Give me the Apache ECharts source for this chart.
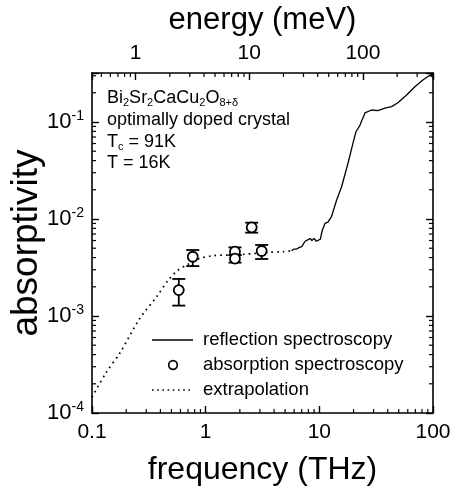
<!DOCTYPE html>
<html><head><meta charset="utf-8">
<script src="https://cdn.jsdelivr.net/npm/echarts@6/dist/echarts.min.js"></script>
<style>html,body{margin:0;padding:0;background:#fff}#c{width:453px;height:493px}</style>
</head><body><div id="c"></div>
<script>
// ---- data ----
const reflFreq = [5.7, 6.0, 6.3, 6.7, 7.0, 7.5, 7.9, 8.3, 8.6, 9.0, 9.4, 9.7, 10.2, 10.6, 11.2, 11.9, 12.8, 14.2, 15.7, 17.9, 19.8, 21.0, 22.8, 25.2, 28.8, 32.7, 37.8, 43.2, 49.1, 58.6, 69.3, 81.5, 100];
const reflAbs  = [0.0047, 0.0049, 0.0049, 0.0051, 0.0052, 0.0059, 0.0061, 0.0063, 0.0060, 0.0063, 0.0059, 0.0058, 0.0062, 0.0076, 0.0090, 0.0093, 0.0106, 0.0157, 0.0215, 0.0378, 0.0608, 0.0794, 0.093, 0.124, 0.133, 0.131, 0.139, 0.144, 0.158, 0.190, 0.231, 0.271, 0.32];
const extrapFreq = [0.1, 0.133, 0.176, 0.264, 0.371, 0.469, 0.574, 0.681, 0.891, 1.17, 1.64, 2.14, 2.81, 3.68, 4.82, 5.7];
const extrapAbs  = [0.000145, 0.00026, 0.000416, 0.000947, 0.00158, 0.00235, 0.00298, 0.00336, 0.00393, 0.00419, 0.00425, 0.00432, 0.00443, 0.00454, 0.0046, 0.0047];
const absFreq    = [0.58, 0.77, 1.81, 1.81, 2.54, 3.11];
const absVal     = [0.00185, 0.00408, 0.0046, 0.0039, 0.0082, 0.00468];
const absErrLow  = [0.00128, 0.00327, 0.00425, 0.00355, 0.00723, 0.00387];
const absErrHigh = [0.00241, 0.00479, 0.0051, 0.00425, 0.00916, 0.0054];
const freqTickLabels = {'-1': '0.1', '0': '1', '1': '10', '2': '100'};
const energyTickLabels = {'0': '1', '1': '10', '2': '100'};
const legendNames = ['reflection spectroscopy', 'absorption spectroscopy', 'extrapolation'];
const meVperTHz = 4.1357;
const xMin = 0.1, xMax = 100, yMin = 1e-4, yMax = 0.32;

const FONT = "'Liberation Sans', Arial, Helvetica, sans-serif";
const exp10 = v => Math.log10(v);
const isPow = v => Math.abs(exp10(v) - Math.round(exp10(v))) < 1e-6;

// minor tick positions (axis decoration)
const minorFreq = [], minorAbs = [], minorEnergyTHz = [];
for (let k = -1; k <= 1; k++) for (let m = 2; m <= 9; m++) minorFreq.push(m * Math.pow(10, k));
for (let k = -4; k <= -1; k++) for (let m = 2; m <= 9; m++) { const v = m * Math.pow(10, k); if (v < yMax) minorAbs.push(v); }
for (let k = -1; k <= 2; k++) for (let m = 2; m <= 9; m++) { const e = m * Math.pow(10, k); const f = e / meVperTHz; if (f > xMin && f < xMax) minorEnergyTHz.push(f); }

function tickSeries(data, dx, dy) {
  return {
    type: 'custom', coordinateSystem: 'cartesian2d', xAxisIndex: 0, yAxisIndex: 0, silent: true, z: 6, clip: false,
    data: data,
    renderItem: (params, api) => {
      const p = api.coord([api.value(0), api.value(1)]);
      return { type: 'group', children: [{ type: 'line', shape: { x1: p[0], y1: p[1], x2: p[0] + dx, y2: p[1] + dy },
               style: { stroke: '#000', lineWidth: 1.2 } }] };
    }
  };
}

const chart = echarts.init(document.getElementById('c'));
const axisCommon = {
  type: 'log', logBase: 10,
  axisLine: { show: true, lineStyle: { color: '#000', width: 1.6 } },
  axisTick: { show: true, inside: true, length: 7, lineStyle: { color: '#000', width: 1.4 } },
  splitLine: { show: false }, minorTick: { show: false }
};
const T = (x, y, text, extra) => ({ type: 'text', x: x, y: y, z: 10,
  style: Object.assign({ text: text, verticalAlign: 'middle', fill: '#000', fontSize: 18, fontFamily: FONT }, extra || {}) });
chart.setOption({
  animation: false,
  backgroundColor: '#fff',
  grid: { left: 92, right: 20, top: 73, bottom: 80, containLabel: false, outerBoundsMode: 'none' },
  xAxis: [
    Object.assign({}, axisCommon, {
      position: 'bottom', min: xMin, max: xMax,
      name: 'frequency (THz)', nameLocation: 'middle', nameGap: 41,
      nameTextStyle: { fontSize: 32, color: '#000', fontFamily: FONT },
      axisLabel: { fontSize: 21, color: '#000', fontFamily: FONT, margin: 9,
        formatter: v => isPow(v) ? (freqTickLabels[String(Math.round(exp10(v)))] || '') : '' }
    }),
    Object.assign({}, axisCommon, {
      position: 'top', min: xMin * meVperTHz, max: xMax * meVperTHz,
      name: 'energy (meV)', nameLocation: 'middle', nameGap: 37,
      nameTextStyle: { fontSize: 31, color: '#000', fontFamily: FONT },
      axisLabel: { fontSize: 21, color: '#000', fontFamily: FONT, margin: 9,
        formatter: v => isPow(v) ? (energyTickLabels[String(Math.round(exp10(v)))] || '') : '' }
    })
  ],
  yAxis: [
    Object.assign({}, axisCommon, {
      position: 'left', min: yMin, max: yMax,
      name: 'absorptivity', nameLocation: 'middle', nameGap: 47, nameRotate: 90, nameMoveOverlap: false,
      nameTextStyle: { fontSize: 37, color: '#000', fontFamily: FONT },
      axisLabel: { margin: 8, color: '#000',
        formatter: v => isPow(v) ? '{b|10}{s|' + Math.round(exp10(v)) + '}' : '',
        rich: { b: { fontSize: 22, color: '#000', fontFamily: FONT },
                s: { fontSize: 14, color: '#000', fontFamily: FONT, padding: [0, 0, 12, 0] } } }
    }),
    Object.assign({}, axisCommon, {
      position: 'right', min: yMin, max: yMax, axisLabel: { show: false }
    })
  ],
  graphic: [
    T(107, 98, '{n|Bi}{s|2}{n|Sr}{s|2}{n|CaCu}{s|2}{n|O}{s|8+δ}', {
      rich: { n: { fontSize: 18, fontFamily: FONT, fill: '#000' },
              s: { fontSize: 11, fontFamily: FONT, fill: '#000', padding: [10, 0, 0, 0] } } }),
    T(107, 120, 'optimally doped crystal'),
    T(107, 142, '{n|T}{s|c}{n| = 91K}', {
      rich: { n: { fontSize: 18, fontFamily: FONT, fill: '#000' },
              s: { fontSize: 11, fontFamily: FONT, fill: '#000', padding: [10, 0, 0, 0] } } }),
    T(107, 163, 'T = 16K'),
    // legend
    { type: 'line', z: 10, shape: { x1: 152, y1: 340, x2: 193, y2: 340 }, style: { stroke: '#000', lineWidth: 1.3 } },
    T(203, 340, legendNames[0], { fontSize: 18.5 }),
    { type: 'circle', z: 10, shape: { cx: 173, cy: 365, r: 4.3 }, style: { fill: '#fff', stroke: '#000', lineWidth: 1.7 } },
    T(203, 365, legendNames[1], { fontSize: 18.5 }),
    { type: 'line', z: 10, shape: { x1: 152, y1: 390, x2: 193, y2: 390 }, style: { stroke: '#000', lineWidth: 1.6, lineDash: [1.6, 3.6] } },
    T(203, 390, legendNames[2], { fontSize: 18.5 })
  ],
  series: [
    { name: legendNames[0], type: 'line', xAxisIndex: 0, yAxisIndex: 0, symbol: 'none',
      lineStyle: { color: '#000', width: 1.3 }, itemStyle: { color: '#000' },
      data: reflFreq.map((f, i) => [f, reflAbs[i]]) },
    { name: legendNames[2], type: 'line', xAxisIndex: 0, yAxisIndex: 0, symbol: 'none', smooth: 0.3,
      lineStyle: { color: '#000', width: 1.7, type: [1.7, 4] }, itemStyle: { color: '#000' },
      data: extrapFreq.map((f, i) => [f, extrapAbs[i]]) },
    { name: 'errorbars', type: 'custom', xAxisIndex: 0, yAxisIndex: 0, z: 3,
      data: absFreq.map((f, i) => [f, absErrLow[i], absErrHigh[i]]),
      renderItem: (params, api) => {
        const lo = api.coord([api.value(0), api.value(1)]);
        const hi = api.coord([api.value(0), api.value(2)]);
        const w = 6.5, st = { stroke: '#000', lineWidth: 1.8 };
        return { type: 'group', children: [
          { type: 'line', shape: { x1: lo[0], y1: lo[1], x2: hi[0], y2: hi[1] }, style: st },
          { type: 'line', shape: { x1: lo[0] - w, y1: lo[1], x2: lo[0] + w, y2: lo[1] }, style: st },
          { type: 'line', shape: { x1: hi[0] - w, y1: hi[1], x2: hi[0] + w, y2: hi[1] }, style: st }
        ] };
      } },
    { name: legendNames[1], type: 'scatter', xAxisIndex: 0, yAxisIndex: 0, z: 4,
      symbol: 'circle', symbolSize: 10,
      itemStyle: { color: '#fff', borderColor: '#000', borderWidth: 1.8, opacity: 1 },
      emphasis: { disabled: true },
      data: absFreq.map((f, i) => [f, absVal[i]]) },
    tickSeries(minorFreq.map(v => [v, yMin]), 0, -4),
    tickSeries(minorEnergyTHz.map(v => [v, yMax]), 0, 4),
    tickSeries(minorAbs.map(v => [xMin, v]), 4, 0),
    tickSeries(minorAbs.map(v => [xMax, v]), -4, 0)
  ]
});
</script></body></html>
